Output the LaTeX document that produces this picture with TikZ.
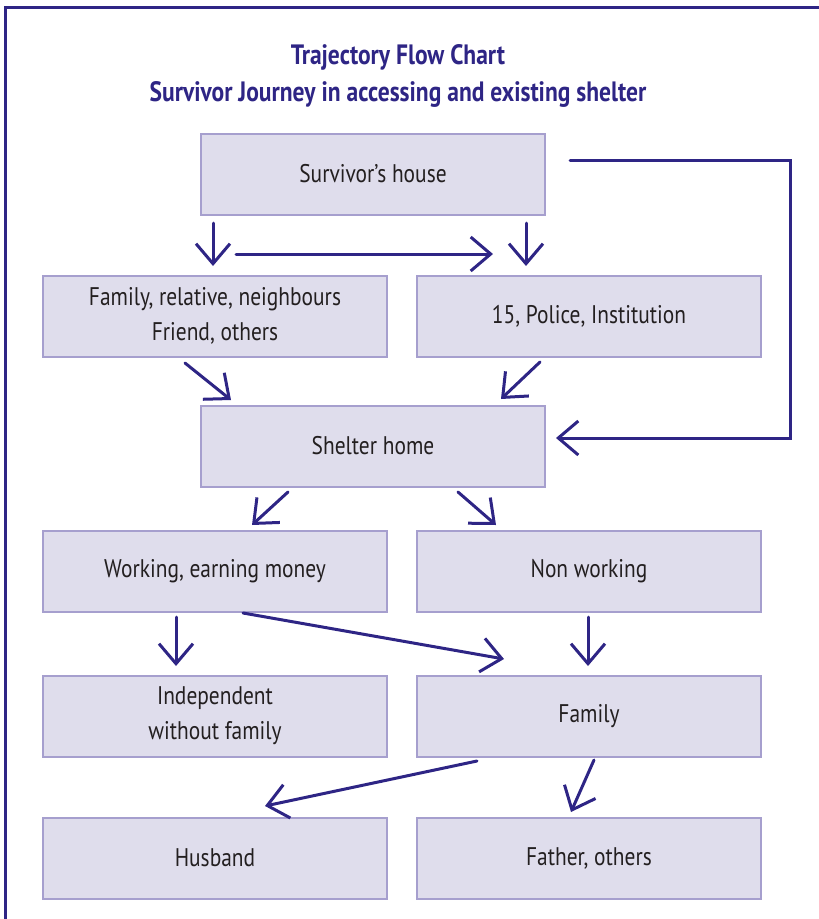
\documentclass[tikz,border=0pt]{standalone}
\usepackage{fontspec}
\setmainfont[FakeStretch=0.84]{PT Sans}
\usetikzlibrary{arrows.meta}
\definecolor{navy}{HTML}{2E2585}
\definecolor{boxfill}{HTML}{DFDDEC}
\definecolor{boxline}{HTML}{A69FCE}
\definecolor{txt}{HTML}{231F20}
\tikzset{
  box/.style={draw=boxline, fill=boxfill, line width=2pt, minimum width=344pt, minimum height=81pt,
    inner sep=0pt, text=txt, font=\fontsize{25.5}{35}\selectfont, align=center},
  arr/.style={draw=navy, line width=3pt, line cap=round,
    -{Straight Barb[length=20pt,width=34pt,line width=3pt]}},
  ttl/.style={text=navy, font=\fontsize{28}{32}\selectfont\bfseries}
}
\begin{document}
\begin{tikzpicture}[x=1pt,y=-1pt]
\useasboundingbox (0,0) rectangle (819,919);
\draw[navy, line width=3pt] (5,919) -- (5,7) -- (819,7);
\node[ttl] (t1) at (398,57) {Trajectory Flow Chart};
\node[ttl] (t2) at (398,94) {Survivor Journey in accessing and existing shelter};
\node[box] (house) at (373,174) {Survivor’s house};
\node[box] (fam1) at (215,316) {Family, relative, neighbours\\Friend, others};
\node[box] (police) at (589,316) {15, Police, Institution};
\node[box] (shelter) at (373,446) {Shelter home};
\node[box] (work) at (215,571) {Working, earning money};
\node[box] (nonwork) at (589,571) {Non working};
\node[box] (indep) at (215,716) {Independent\\without family};
\node[box] (family) at (589,716) {Family};
\node[box] (husband) at (215,858) {Husband};
\node[box] (father) at (589,858) {Father, others};
% connector end points
\coordinate (a1s) at (213,223); \coordinate (a1e) at (213,266);
\coordinate (a2s) at (236,254); \coordinate (a2e) at (493,254);
\coordinate (a3s) at (526,223); \coordinate (a3e) at (526,266);
\coordinate (a4s) at (570,160); \coordinate (a4e) at (556,438);
\coordinate (a5s) at (185,363); \coordinate (a5e) at (231,400);
\coordinate (a6s) at (540,362); \coordinate (a6e) at (501,399);
\coordinate (a7s) at (288,492); \coordinate (a7e) at (252,525);
\coordinate (a8s) at (458,492); \coordinate (a8e) at (496,525);
\coordinate (a9s) at (176,617); \coordinate (a9e) at (176,666);
\coordinate (a10s) at (243,613); \coordinate (a10e) at (504,659);
\coordinate (a11s) at (588,617); \coordinate (a11e) at (588,666);
\coordinate (a12s) at (477,761); \coordinate (a12e) at (265,806);
\coordinate (a13s) at (594,760); \coordinate (a13e) at (571,812);
\draw[arr] (a1s) -- (a1e);
\draw[arr] (a2s) -- (a2e);
\draw[arr] (a3s) -- (a3e);
\draw[arr] (a4s) -- (790,160) -- (790,438) -- (a4e);
\draw[arr] (a5s) -- (a5e);
\draw[arr] (a6s) -- (a6e);
\draw[arr] (a7s) -- (a7e);
\draw[arr] (a8s) -- (a8e);
\draw[arr] (a9s) -- (a9e);
\draw[arr] (a10s) -- (a10e);
\draw[arr] (a11s) -- (a11e);
\draw[arr] (a12s) -- (a12e);
\draw[arr] (a13s) -- (a13e);
\end{tikzpicture}
\end{document}
